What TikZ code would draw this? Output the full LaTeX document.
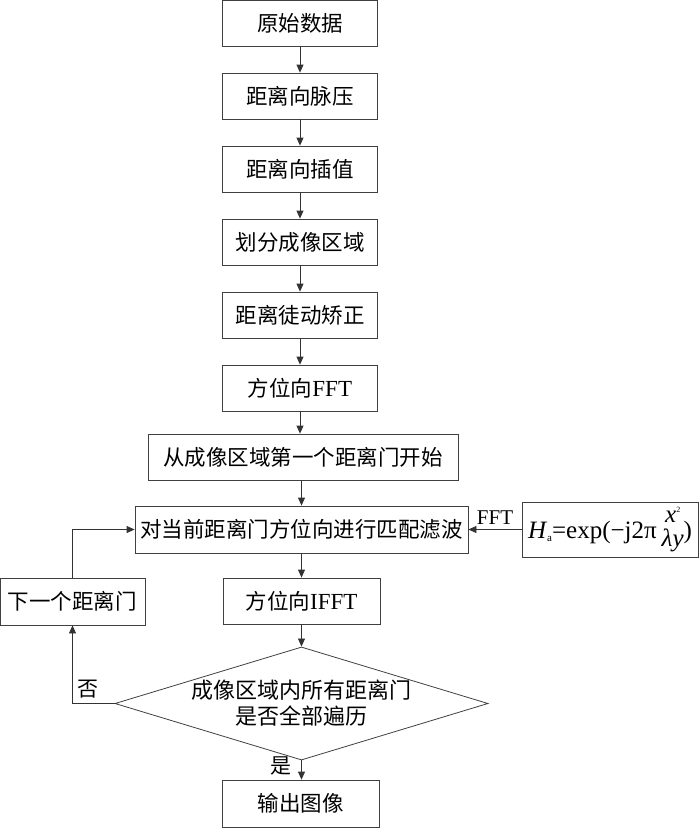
\documentclass[tikz,border=0pt]{standalone}
\usepackage{fontspec}
\setmainfont{Liberation Serif}
\newfontfamily\cjk{Noto Sans CJK SC}
\usetikzlibrary{arrows.meta,shapes.geometric,positioning}
\begin{document}
\begin{tikzpicture}[x=1pt,y=-1pt,
  box/.style={draw=black!75,line width=0.8pt,minimum height=46pt,inner sep=0pt,font=\fontsize{21.5}{24}\selectfont\cjk},
  mbox/.style={box,minimum width=155pt},
  arr/.style={draw=black!80,line width=0.8pt,-{Triangle[length=8pt,width=7pt]}},
  lbl/.style={font=\fontsize{21}{22}\selectfont\cjk}]
\useasboundingbox (0,0) rectangle (700,828);
\node[mbox] (n1) at (300,23) {原始数据};
\node[mbox] (n2) at (300,96) {距离向脉压};
\node[mbox] (n3) at (300,169) {距离向插值};
\node[mbox] (n4) at (300,242) {划分成像区域};
\node[mbox] (n5) at (300,315) {距离徒动矫正};
\node[mbox] (n6) at (300,388) {方位向{\fontsize{23}{24}\selectfont\rmfamily FFT}};
\node[box,minimum width=310pt] (n7) at (303,457) {从成像区域第一个距离门开始};
\node[box,minimum width=333pt,minimum height=47pt] (n8) at (301.5,529.5) {对当前距离门方位向进行匹配滤波};
\node[box,minimum width=176pt,minimum height=55pt,font=\fontsize{25}{27}\selectfont\rmfamily] (f) at (610,529.5) {\textit{H}\raisebox{-3pt}{\fontsize{11}{12}\selectfont a}=exp(−j2π\raisebox{3pt}{\begin{tabular}[c]{@{\hspace{5pt}}c@{}}\textit{x}\raisebox{10pt}{\fontsize{8}{9}\selectfont 2}\\[-3pt]\textit{λy}\end{tabular}})};
\node[mbox,minimum width=157pt] (n9) at (301.5,601) {方位向{\fontsize{23}{24}\selectfont\rmfamily IFFT}};
\node[box,minimum width=145pt,minimum height=47pt] (nx) at (72.5,601.5) {下一个距离门};
\node[draw=black!75,line width=0.8pt,diamond,aspect=3.3,inner sep=0pt,minimum width=343pt,minimum height=103pt,align=center,font=\fontsize{22}{26}\selectfont\cjk] (d) at (301.5,703.5) {成像区域内所有距离门\\是否全部遍历};
\node[box,minimum width=157pt,minimum height=47pt] (n10) at (300.5,803.5) {输出图像};
\draw[arr] (n1) -- (n2);
\draw[arr] (n2) -- (n3);
\draw[arr] (n3) -- (n4);
\draw[arr] (n4) -- (n5);
\draw[arr] (n5) -- (n6);
\draw[arr] (n6.south) -- (n6.south|-n7.north);
\draw[arr] (n7.south-|n8.north) -- (n8.north);
\draw[arr] (n8) -- (n9);
\draw[arr] (n9.south) -- (n9.south|-d.north);
\draw[arr] (d.south) -- (d.south|-n10.north);
\draw[arr] (f.west) -- node[above,font=\fontsize{21}{22}\selectfont\rmfamily,yshift=1pt] {FFT} (n8.east);
\draw[arr] (d.west) -| (nx.south);
\draw[arr] (nx.north) |- (n8.west);
\node[lbl] at (88,689) {否};
\node[lbl] at (281,766) {是};
\end{tikzpicture}
\end{document}
